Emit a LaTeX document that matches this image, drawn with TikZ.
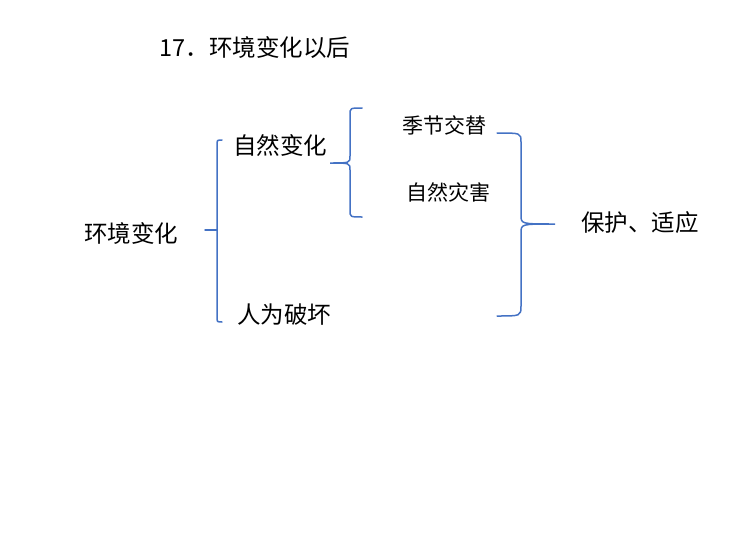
\documentclass[tikz,border=0pt]{standalone}
\usepackage{fontspec}
\newfontfamily\cjk{Noto Sans CJK SC}
\definecolor{brc}{RGB}{68,114,196}
\begin{document}
\begin{tikzpicture}[x=1pt,y=-1pt,
  big/.style={font=\cjk\fontsize{23.5}{26}\selectfont,inner sep=0pt},
  small/.style={font=\cjk\fontsize{21}{24}\selectfont,inner sep=0pt},
  br/.style={draw=brc,line width=1.5pt,line cap=round}]
\useasboundingbox (0,0) rectangle (750,554);
\node[big] (title) at (255,48) {17．环境变化以后};
\node[big] (env) at (131,233) {环境变化};
\node[big] (nat) at (280,145) {自然变化};
\node[big] (hum) at (284,315) {人为破坏};
\node[small] (season) at (444,125) {季节交替};
\node[small] (disaster) at (448,192) {自然灾害};
\node[big] (prot) at (640,223) {保护、适应};
% brace 1
\draw[br] (222,140) .. controls (217,140) .. (217,145) -- (217,317) .. controls (217,322) .. (222,322);
\draw[br] (205,230) -- (217,230);
% brace 2
\draw[br] (362,108) .. controls (350,108) .. (350,115) -- (350,156) .. controls (350,163) .. (330,163) .. controls (350,163) .. (350,170) -- (350,210) .. controls (350,217) .. (362,217);
% brace 3
\draw[br] (497,133) .. controls (521,133) .. (521,142) -- (521,215) .. controls (521,224) .. (555,224) .. controls (521,224) .. (521,233) -- (521,306) .. controls (521,316) .. (497,316);
\end{tikzpicture}
\end{document}
